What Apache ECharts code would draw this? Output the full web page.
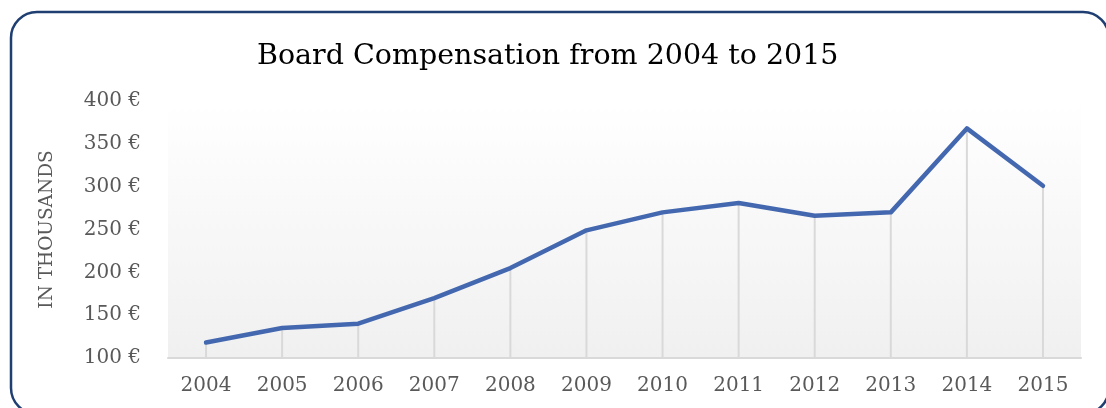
<!DOCTYPE html>
<html>
<head>
<meta charset="utf-8">
<title>Board Compensation from 2004 to 2015</title>
<script src="https://cdn.jsdelivr.net/npm/echarts@6/dist/echarts.min.js"></script>
<style>
  html, body { margin: 0; padding: 0; background: #ffffff; }
  #chart { width: 1106px; height: 408px; }
</style>
</head>
<body>
<div id="chart"></div>
<script>
// Board compensation per year, in thousands of euros
const years = ['2004', '2005', '2006', '2007', '2008', '2009', '2010', '2011', '2012', '2013', '2014', '2015'];
const compensation = [118, 135, 140, 170, 205, 249, 270, 281, 266, 270, 368, 301];
const yTicks = { min: 100, max: 400, interval: 50 };

const serif = '"DejaVu Serif", "Liberation Serif", serif';
const labelGrey = '#595959';

const chart = echarts.init(document.getElementById('chart'), null, { renderer: 'canvas' });

chart.setOption({
  animation: false,
  title: {
    text: 'Board Compensation from 2004 to 2015',
    left: 252,
    top: 37,
    textStyle: { fontFamily: serif, fontSize: 28.5, fontWeight: 'normal', color: '#000000' }
  },
  grid: {
    left: 168, right: 25, top: 101, bottom: 50,
    show: true,
    borderWidth: 0,
    backgroundColor: new echarts.graphic.LinearGradient(0, 0, 0, 1, [
      { offset: 0, color: '#ffffff' },
      { offset: 1, color: '#f0f0f0' }
    ])
  },
  xAxis: {
    type: 'category',
    data: years,
    boundaryGap: true,
    axisLine: { lineStyle: { color: '#d9d9d9', width: 2 } },
    axisTick: { show: false },
    axisLabel: { fontFamily: serif, fontSize: 20, color: labelGrey, margin: 18 },
    splitLine: { show: false }
  },
  yAxis: {
    type: 'value',
    min: yTicks.min,
    max: yTicks.max,
    interval: yTicks.interval,
    name: 'IN THOUSANDS',
    nameLocation: 'middle',
    nameGap: 111,
    nameRotate: 90,
    nameTextStyle: { fontFamily: serif, fontSize: 18.5, color: labelGrey },
    axisLine: { show: false },
    axisTick: { show: false },
    splitLine: { show: false },
    axisLabel: {
      fontFamily: serif, fontSize: 20, color: labelGrey, margin: 27,
      formatter: v => v + ' €'
    }
  },
  series: [
    {
      // drop lines from each point down to the category axis
      type: 'bar',
      data: compensation,
      barWidth: 2,
      itemStyle: { color: '#d9d9d9' },
      silent: true,
      z: 1
    },
    {
      type: 'line',
      data: compensation,
      symbol: 'none',
      lineStyle: { color: '#4468b0', width: 4.5, join: 'round', cap: 'round' },
      z: 3
    }
  ],
  graphic: [
    {
      type: 'rect',
      shape: { x: 11, y: 12, width: 1098, height: 402, r: 26 },
      style: { fill: 'none', stroke: '#1f3f72', lineWidth: 2.5 },
      silent: true,
      z: 100
    }
  ]
});
</script>
</body>
</html>
